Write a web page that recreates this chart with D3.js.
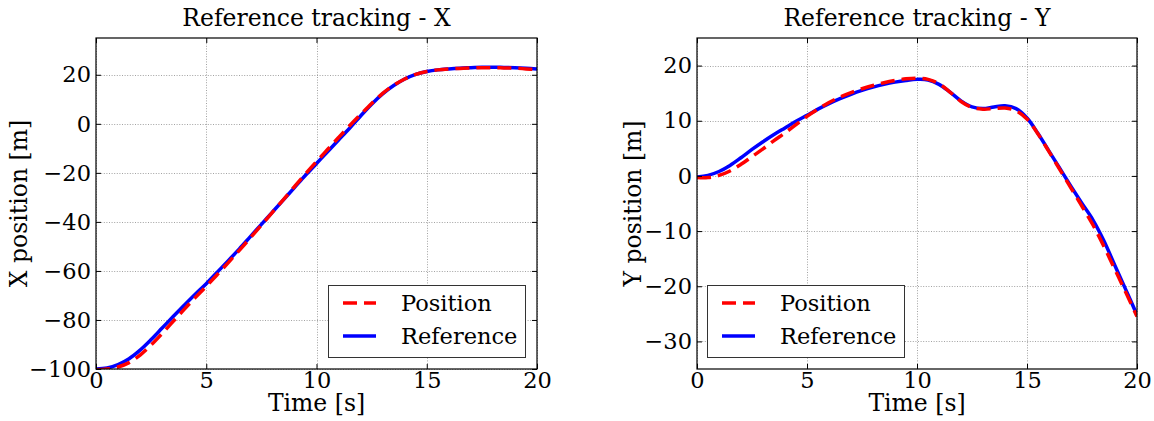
<!DOCTYPE html>
<html>
<head>
<meta charset="utf-8">
<script src="https://cdn.jsdelivr.net/npm/d3@7"></script>
<style>
  html, body { margin: 0; padding: 0; background: #fff; }
  svg { display: block; }
  text { font-family: "DejaVu Serif", serif; fill: #000; }
</style>
</head>
<body>
<svg id="chart" width="1154" height="421"></svg>
<script>
// ---------------- data ----------------
const time = [0, 0.5, 1, 1.5, 2, 2.5, 3, 3.5, 4, 4.5, 5, 5.5, 6, 6.5, 7, 7.5, 8, 8.5, 9, 9.5,
  10, 10.5, 11, 11.5, 12, 12.5, 13, 13.5, 14, 14.5, 15, 15.5, 16, 16.5, 17, 17.5, 18, 18.5, 19, 19.5, 20];

const refX = [-100, -99.6, -98.2, -95.8, -92.3, -88, -83.3, -78.6, -74, -69.5, -65.2, -60.5, -55.8, -51, -46, -41,
  -36, -31, -26, -21, -16.2, -11.4, -6.6, -1.8, 3.2, 8, 12.2, 15.6, 18.3, 20.2, 21.3, 22, 22.4, 22.7, 22.9, 23.1,
  23.1, 23.0, 22.9, 22.7, 22.4];
const posX = [-100.3, -100, -99.2, -97.4, -94.3, -90.2, -85.5, -80.6, -75.7, -70.9, -66.3, -61.5, -56.6, -51.6, -46.5,
  -41.3, -36.1, -30.9, -25.6, -20.4, -15.4, -10.5, -5.6, -0.8, 3.8, 8.3, 12.4, 15.7, 18.3, 20.2, 21.3, 22, 22.4, 22.6,
  22.8, 22.9, 22.9, 22.8, 22.7, 22.4, 22.1];

const refY = [-0.2, 0.1, 0.8, 1.9, 3.3, 4.8, 6.2, 7.5, 8.7, 9.9, 11.0, 12.1, 13.1, 14.0, 14.8, 15.5, 16.1, 16.6, 17.0,
  17.3, 17.5, 17.4, 16.6, 15.2, 13.6, 12.5, 12.2, 12.5, 12.7, 12.2, 10.5, 7.7, 4.5, 1.3, -1.9, -5.0, -8.0, -11.8,
  -16.3, -20.7, -25.2];
const posY = [-0.3, -0.3, 0.1, 0.9, 2.1, 3.5, 4.9, 6.4, 7.8, 9.3, 10.8, 12.1, 13.3, 14.3, 15.1, 15.8, 16.4, 16.9, 17.3,
  17.6, 17.7, 17.5, 16.7, 15.2, 13.5, 12.4, 12.1, 12.2, 12.3, 11.8, 10.3, 7.6, 4.4, 1.1, -2.2, -5.5, -8.9, -12.8,
  -17.0, -21.2, -25.5];

const xTicks = [0, 5, 10, 15, 20];
const yTicksX = [-100, -80, -60, -40, -20, 0, 20];
const yTicksY = [-30, -20, -10, 0, 10, 20];
const legendLabels = ["Position", "Reference"];

// ---------------- drawing ----------------
const svg = d3.select("#chart");
const FS_TICK = 22.5, FS_LABEL = 23.5, FS_TITLE = 23.5, FS_LEG = 22.5;

function panel(opts) {
  const { left, right, top, bottom, xDomain, yDomain, yTicks, refVals, posVals, title, ylabel, ylabelX, legendX } = opts;
  const x = d3.scaleLinear().domain(xDomain).range([left, right]);
  const y = d3.scaleLinear().domain(yDomain).range([bottom, top]);
  const g = svg.append("g");

  // grid
  const grid = g.append("g").attr("stroke", "#8a8a8a").attr("stroke-width", 0.8).attr("stroke-dasharray", "1,1.6");
  grid.selectAll(".gx").data(xTicks).join("line")
    .attr("x1", d => Math.round(x(d)) + 0.5).attr("x2", d => Math.round(x(d)) + 0.5)
    .attr("y1", top).attr("y2", bottom);
  grid.selectAll(".gy").data(yTicks).join("line")
    .attr("y1", d => Math.round(y(d)) + 0.5).attr("y2", d => Math.round(y(d)) + 0.5)
    .attr("x1", left).attr("x2", right);

  // curves
  const clipId = "clip" + Math.round(left);
  svg.append("defs").append("clipPath").attr("id", clipId)
    .append("rect").attr("x", left).attr("y", top).attr("width", right - left).attr("height", bottom - top);
  const line = vals => d3.line().x((d, i) => x(time[i])).y(d => y(d)).curve(d3.curveCatmullRom.alpha(0.5))(vals);
  const cg = g.append("g").attr("clip-path", `url(#${clipId})`);
  cg.append("path").attr("d", line(refVals)).attr("fill", "none").attr("stroke", "#0000ff").attr("stroke-width", 3.5);
  cg.append("path").attr("d", line(posVals)).attr("fill", "none").attr("stroke", "#ff0000").attr("stroke-width", 3.5)
    .attr("stroke-dasharray", "14,7");

  // axes (ticks inward on all sides)
  const tickLen = 5;
  const axB = d3.axisBottom(x).tickValues(xTicks).tickSize(-tickLen).tickPadding(3).tickFormat(d3.format("d"));
  const axT = d3.axisTop(x).tickValues(xTicks).tickSize(-tickLen).tickFormat("");
  const axL = d3.axisLeft(y).tickValues(yTicks).tickSize(-tickLen).tickPadding(5).tickFormat(d3.format("d"));
  const axR = d3.axisRight(y).tickValues(yTicks).tickSize(-tickLen).tickFormat("");
  const styleAxis = sel => {
    sel.select(".domain").remove();
    sel.selectAll(".tick line").attr("stroke", "#000").attr("stroke-width", 1);
    sel.selectAll(".tick text").attr("font-family", "DejaVu Serif").attr("font-size", FS_TICK).attr("fill", "#000");
  };
  g.append("g").attr("transform", `translate(0,${bottom})`).call(axB).call(styleAxis);
  g.append("g").attr("transform", `translate(0,${top})`).call(axT).call(styleAxis);
  g.append("g").attr("transform", `translate(${left},0)`).call(axL).call(styleAxis);
  g.append("g").attr("transform", `translate(${right},0)`).call(axR).call(styleAxis);

  // frame
  g.append("rect").attr("x", left).attr("y", top).attr("width", right - left).attr("height", bottom - top)
    .attr("fill", "none").attr("stroke", "#000").attr("stroke-width", 1.2);

  // title & labels
  g.append("text").attr("x", (left + right) / 2).attr("y", 26).attr("text-anchor", "middle")
    .attr("font-size", FS_TITLE).text(title);
  g.append("text").attr("x", (left + right) / 2).attr("y", 411).attr("text-anchor", "middle")
    .attr("font-size", FS_LABEL).text("Time [s]");
  g.append("text").attr("transform", `translate(${ylabelX},${(top + bottom) / 2}) rotate(-90)`)
    .attr("text-anchor", "middle").attr("font-size", FS_LABEL).text(ylabel);

  // legend
  const lg = g.append("g").attr("transform", `translate(${legendX},285)`);
  lg.append("rect").attr("x", 0.5).attr("y", 0.5).attr("width", 197).attr("height", 72)
    .attr("fill", "#fff").attr("stroke", "#333").attr("stroke-width", 1);
  const styles = [{ c: "#ff0000", dash: "14,7" }, { c: "#0000ff", dash: null }];
  legendLabels.forEach((lab, i) => {
    const yy = 18 + i * 33;
    lg.append("line").attr("x1", 15).attr("x2", 48).attr("y1", yy).attr("y2", yy)
      .attr("stroke", styles[i].c).attr("stroke-width", 3.5).attr("stroke-dasharray", styles[i].dash);
    lg.append("text").attr("x", 73).attr("y", yy + 8.2).attr("font-size", FS_LEG).text(lab);
  });
}

panel({ left: 96, right: 537, top: 38, bottom: 369, xDomain: [0, 20], yDomain: [-100, 35], yTicks: yTicksX,
  refVals: refX, posVals: posX, title: "Reference tracking - X", ylabel: "X position [m]", ylabelX: 27, legendX: 328 });
panel({ left: 697, right: 1137, top: 38, bottom: 369, xDomain: [0, 20], yDomain: [-35, 25], yTicks: yTicksY,
  refVals: refY, posVals: posY, title: "Reference tracking - Y", ylabel: "Y position [m]", ylabelX: 641, legendX: 707 });
</script>
</body>
</html>
